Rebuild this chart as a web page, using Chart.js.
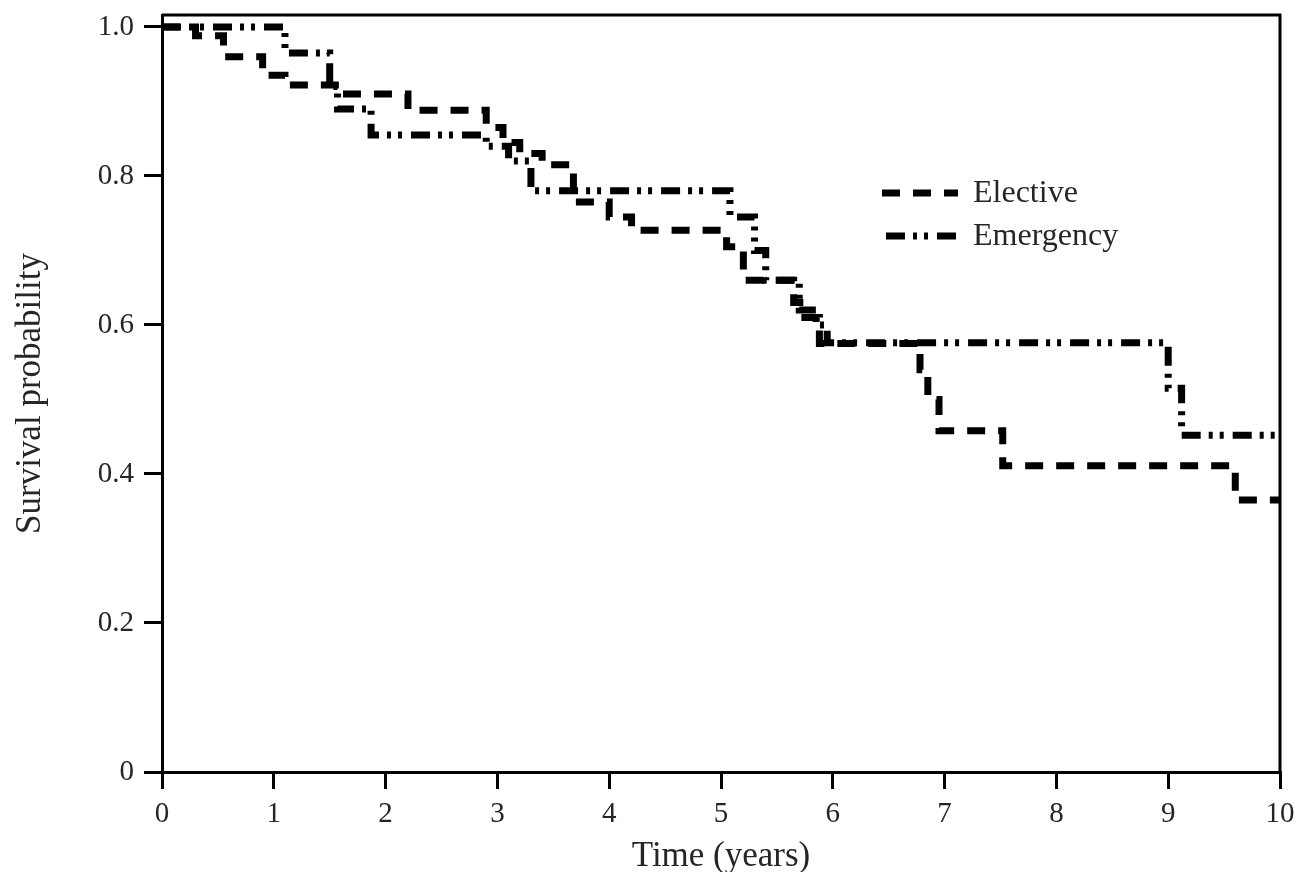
<!DOCTYPE html>
<html>
<head>
<meta charset="utf-8">
<script src="https://cdn.jsdelivr.net/npm/chart.js@4.4.1/dist/chart.umd.min.js"></script>
<style>
  html, body { margin: 0; padding: 0; background: #fff; }
  #wrap { width: 1303px; height: 872px; }
</style>
</head>
<body>
<div id="wrap"><canvas id="kmChart"></canvas></div>
<script>
// Kaplan-Meier step points
const electiveTime = [0, 0.3, 0.55, 0.9, 1.1, 1.65, 2.2, 2.9, 3.05, 3.2, 3.4, 3.68, 4.0, 4.2, 5.05, 5.2, 5.65, 5.75, 5.88, 6.78, 6.85, 6.95, 7.52, 9.6, 10];
const electiveSurv = [1.0, 0.988, 0.96, 0.935, 0.922, 0.91, 0.888, 0.865, 0.845, 0.83, 0.815, 0.765, 0.745, 0.727, 0.705, 0.66, 0.63, 0.61, 0.575, 0.54, 0.5, 0.458, 0.411, 0.365, 0.365];

const emergencyTime = [0, 1.1, 1.5, 1.57, 1.87, 2.9, 3.1, 3.3, 5.08, 5.3, 5.4, 5.7, 5.85, 5.95, 9.0, 9.12, 10];
const emergencySurv = [1.0, 0.965, 0.92, 0.89, 0.855, 0.84, 0.82, 0.78, 0.745, 0.7, 0.66, 0.62, 0.6, 0.576, 0.515, 0.452, 0.452];

const xTicks = [0, 1, 2, 3, 4, 5, 6, 7, 8, 9, 10];
const yTicks = [0, 0.2, 0.4, 0.6, 0.8, 1.0];

const seriesLabels = ["Elective", "Emergency"];

const SERIF = "'Liberation Serif', 'Times New Roman', serif";
const TEXT = "#262626";

const electiveDash = [18, 13];
const emergencyDash = [19, 8, 4, 7, 4, 9];

function toPoints(xs, ys) {
  return xs.map((x, i) => ({ x: x, y: ys[i] }));
}

// closes the frame and draws the inside legend
const framePlugin = {
  id: "frame",
  afterDraw(chart) {
    const { ctx, chartArea } = chart;
    ctx.save();
    ctx.strokeStyle = "#000";
    ctx.lineWidth = 3;
    ctx.beginPath();
    ctx.moveTo(chartArea.left, chartArea.top);
    ctx.lineTo(chartArea.right, chartArea.top);
    ctx.lineTo(chartArea.right, chartArea.bottom);
    ctx.stroke();

    const rows = [
      { y: 193, dash: electiveDash, x0: 882, x1: 958 },
      { y: 236, dash: emergencyDash, x0: 886, x1: 960 },
    ];
    ctx.font = "32px " + SERIF;
    ctx.fillStyle = TEXT;
    ctx.textBaseline = "middle";
    ctx.textAlign = "left";
    rows.forEach((r, i) => {
      ctx.beginPath();
      ctx.setLineDash(r.dash);
      ctx.lineWidth = 7;
      ctx.strokeStyle = "#000";
      ctx.moveTo(r.x0, r.y);
      ctx.lineTo(r.x1, r.y);
      ctx.stroke();
      ctx.setLineDash([]);
      ctx.fillText(seriesLabels[i], 973, r.y + 1);
    });
    ctx.restore();
  },
};

const ctx = document.getElementById("kmChart").getContext("2d");

new Chart(ctx, {
  type: "line",
  data: {
    datasets: [
      {
        label: seriesLabels[0],
        data: toPoints(electiveTime, electiveSurv),
        stepped: true,
        borderColor: "#000",
        borderWidth: 7,
        borderDash: electiveDash,
        pointRadius: 0,
        fill: false,
      },
      {
        label: seriesLabels[1],
        data: toPoints(emergencyTime, emergencySurv),
        stepped: true,
        borderColor: "#000",
        borderWidth: 7,
        borderDash: emergencyDash,
        pointRadius: 0,
        fill: false,
      },
    ],
  },
  options: {
    responsive: true,
    maintainAspectRatio: false,
    animation: false,
    layout: {
      padding: { left: 0, right: 23, top: 15, bottom: 0 },
    },
    plugins: {
      legend: { display: false },
      title: { display: false },
      tooltip: { enabled: false },
    },
    scales: {
      x: {
        type: "linear",
        min: 0,
        max: 10,
        afterFit(scale) {
          scale.height = 100;
          scale.paddingLeft = 0;
          scale.paddingRight = 0;
        },
        afterBuildTicks(scale) {
          scale.ticks = xTicks.map((v) => ({ value: v }));
        },
        border: { display: true, color: "#000", width: 3 },
        grid: {
          display: true,
          drawOnChartArea: false,
          drawTicks: true,
          tickLength: 17,
          color: "#000",
          lineWidth: 3,
        },
        ticks: {
          font: { family: SERIF, size: 29 },
          color: TEXT,
          padding: 8,
          maxRotation: 0,
          autoSkip: false,
        },
        title: {
          display: true,
          text: "Time (years)",
          font: { family: SERIF, size: 35, lineHeight: 1 },
          color: TEXT,
          padding: { top: 0, bottom: -2 },
        },
      },
      y: {
        type: "linear",
        min: 0,
        max: 1.016,
        afterFit(scale) {
          scale.width = 162;
          scale.paddingTop = 0;
          scale.paddingBottom = 0;
        },
        afterBuildTicks(scale) {
          scale.ticks = yTicks.map((v) => ({ value: v }));
        },
        border: { display: true, color: "#000", width: 3 },
        grid: {
          display: true,
          drawOnChartArea: false,
          drawTicks: true,
          tickLength: 18,
          color: "#000",
          lineWidth: 3,
        },
        ticks: {
          font: { family: SERIF, size: 29 },
          color: TEXT,
          padding: 10,
          autoSkip: false,
          callback: (v) => (v === 0 ? "0" : v.toFixed(1)),
        },
        title: {
          display: true,
          text: "Survival probability",
          font: { family: SERIF, size: 35, lineHeight: 1 },
          color: TEXT,
          padding: { top: 13, bottom: 0 },
        },
      },
    },
  },
  plugins: [framePlugin],
});
</script>
</body>
</html>
